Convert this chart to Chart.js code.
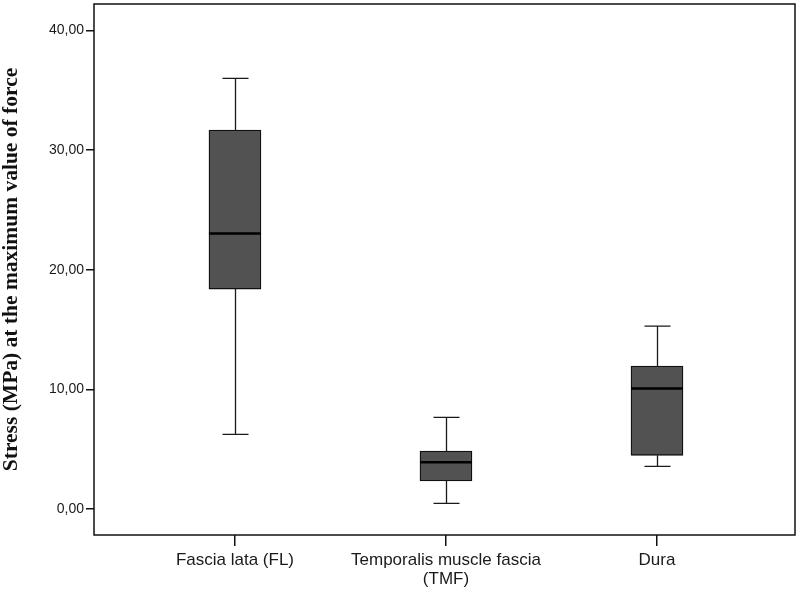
<!DOCTYPE html>
<html>
<head>
<meta charset="utf-8">
<script src="https://cdn.jsdelivr.net/npm/chart.js@4.4.1/dist/chart.umd.min.js"></script>
<style>
  html, body { margin: 0; padding: 0; background: #fff; }
  #wrap { width: 800px; height: 589px; position: relative; }
</style>
</head>
<body>
<div id="wrap"><canvas id="boxChart"></canvas></div>
<script>
// data
var categories = [['Fascia lata (FL)'], ['Temporalis muscle fascia', '(TMF)'], ['Dura']];
var whiskerMin = [6.24, 0.48, 3.57];
var quartile1 = [18.38, 2.34, 4.49];
var medians = [23.03, 3.90, 10.08];
var quartile3 = [31.66, 4.85, 11.95];
var whiskerMax = [35.98, 7.66, 15.29];
var yTicks = [0, 10, 20, 30, 40];

/****************************************************** plugins **************************************/
var whiskerPlugin = {
    id: 'whiskers',
    beforeDatasetsDraw: function (chart) {
        var ctx = chart.ctx, x = chart.scales.x, y = chart.scales.y;
        ctx.save();
        ctx.strokeStyle = '#1a1a1a';
        ctx.lineWidth = 1.3;
        for (var i = 0; i < categories.length; i++) {
            var px = Math.round(x.getPixelForValue(i)) + 0.5;
            ctx.beginPath();
            ctx.moveTo(px, y.getPixelForValue(whiskerMax[i]));
            ctx.lineTo(px, y.getPixelForValue(quartile3[i]));
            ctx.moveTo(px, y.getPixelForValue(quartile1[i]));
            ctx.lineTo(px, y.getPixelForValue(whiskerMin[i]));
            // caps
            ctx.moveTo(px - 13, y.getPixelForValue(whiskerMax[i]));
            ctx.lineTo(px + 13, y.getPixelForValue(whiskerMax[i]));
            ctx.moveTo(px - 13, y.getPixelForValue(whiskerMin[i]));
            ctx.lineTo(px + 13, y.getPixelForValue(whiskerMin[i]));
            ctx.stroke();
        }
        ctx.restore();
    },
    afterDatasetsDraw: function (chart) {
        var ctx = chart.ctx, y = chart.scales.y;
        var bars = chart.getDatasetMeta(0).data;
        ctx.save();
        ctx.strokeStyle = '#000';
        ctx.lineWidth = 2.5;
        for (var i = 0; i < bars.length; i++) {
            var b = bars[i];
            var py = y.getPixelForValue(medians[i]);
            ctx.beginPath();
            ctx.moveTo(b.x - b.width / 2, py);
            ctx.lineTo(b.x + b.width / 2, py);
            ctx.stroke();
        }
        // frame round the plot area
        var a = chart.chartArea;
        ctx.lineWidth = 1.5;
        ctx.strokeStyle = '#111';
        ctx.strokeRect(a.left, a.top, a.right - a.left, a.bottom - a.top);
        ctx.restore();
    }
};

var whiteBg = {
    id: 'whiteBg',
    beforeDraw: function (chart) {
        var ctx = chart.ctx;
        ctx.save();
        ctx.fillStyle = '#fff';
        ctx.fillRect(0, 0, chart.width, chart.height);
        ctx.restore();
    }
};

/****************************************************** chart **************************************/
var ctx = document.getElementById('boxChart').getContext('2d');
var chart = new Chart(ctx, {
    type: 'bar',
    data: {
        datasets: [{
            data: categories.map(function (c, i) { return { x: i, y: [quartile1[i], quartile3[i]] }; }),
            backgroundColor: '#525252',
            borderColor: '#111',
            borderWidth: 1.3,
            borderSkipped: false,
            barThickness: 52
        }]
    },
    options: {
        responsive: true,
        maintainAspectRatio: false,
        animation: false,
        layout: { padding: { top: 4, right: 5, bottom: 0, left: 0 } },
        plugins: { legend: { display: false }, tooltip: { enabled: false } },
        scales: {
            x: {
                type: 'linear',
                offset: false,
                min: -0.668,
                max: 2.654,
                afterBuildTicks: function (scale) {
                    scale.ticks = categories.map(function (c, i) { return { value: i }; });
                },
                afterFit: function (scale) {
                    scale.height = 54;
                    scale.paddingLeft = 0;
                    scale.paddingRight = 0;
                },
                ticks: {
                    color: '#1a1a1a',
                    font: { family: 'Liberation Sans, Arial, sans-serif', size: 17, lineHeight: 1.1 },
                    padding: 5,
                    maxRotation: 0,
                    autoSkip: false,
                    callback: function (v) { return categories[v]; }
                },
                grid: { offset: false, drawOnChartArea: false, drawTicks: true, tickLength: 11, color: '#111', lineWidth: 1.5 },
                border: { display: false }
            },
            y: {
                min: -2.17,
                max: 42.2,
                afterBuildTicks: function (scale) {
                    scale.ticks = yTicks.map(function (v) { return { value: v }; });
                },
                afterFit: function (scale) {
                    scale.width = 94;
                    scale.paddingTop = 0;
                    scale.paddingBottom = 0;
                },
                ticks: {
                    color: '#1a1a1a',
                    font: { family: 'Liberation Sans, Arial, sans-serif', size: 14 },
                    padding: 2,
                    callback: function (v) { return v.toFixed(2).replace('.', ','); }
                },
                grid: { drawOnChartArea: false, drawTicks: true, tickLength: 8, color: '#111', lineWidth: 1.5 },
                border: { display: false },
                title: {
                    display: true,
                    text: 'Stress (MPa) at the maximum value of force',
                    color: '#111',
                    font: { family: 'Liberation Serif, Times New Roman, serif', size: 21.5, weight: 'bold', lineHeight: 1 },
                    padding: { top: 1, bottom: 0 }
                }
            }
        }
    },
    plugins: [whiteBg, whiskerPlugin]
});
</script>
</body>
</html>
